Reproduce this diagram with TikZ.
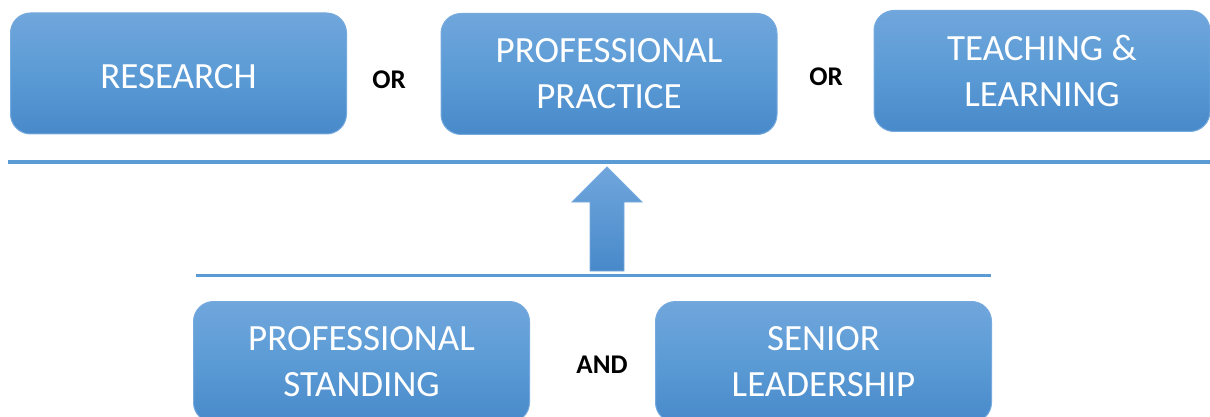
\documentclass[tikz,border=0pt]{standalone}
\usepackage{fontspec}
\setmainfont{Carlito}

\definecolor{boxtop}{RGB}{112,166,220}
\definecolor{boxmid}{RGB}{91,155,213}
\definecolor{boxbot}{RGB}{72,137,202}
\definecolor{boxline}{RGB}{118,170,222}
\definecolor{rulecol}{RGB}{91,155,213}

\begin{document}
\begin{tikzpicture}[x=1pt,y=-1pt,
  area/.style={rounded corners=20pt,draw=boxline,line width=1pt,
    top color=boxtop,bottom color=boxbot,middle color=boxmid,
    minimum width=336pt,minimum height=121pt,inner sep=0pt,
    text=white,align=center,font=\fontsize{37}{46}\selectfont,
    execute at begin node={\rule{0pt}{29.5pt}}},
  joiner/.style={font=\bfseries\fontsize{27}{32}\selectfont},
  rule/.style={draw=rulecol,line width=3pt}]
\useasboundingbox (0,0) rectangle (1210,417);

\node[area] (research) at (178.5,73.5) {RESEARCH};
\node[area] (practice) at (609,74) {PROFESSIONAL\\PRACTICE};
\node[area] (teaching) at (1042,71) {TEACHING \&\\LEARNING};
\node[joiner] (or1) at (389,79.5) {OR};
\node[joiner] (or2) at (826,76.5) {OR};

\draw[rule] (8,162) -- (1210,162);

\shade[top color=boxtop,bottom color=boxbot,draw=boxline,line width=0.8pt]
  (590,271) -- (590,202) -- (572,202) -- (607,167) -- (642,202)
  -- (624,202) -- (624,271) -- cycle;

\draw[rule] (196,275.5) -- (991,275.5);

\node[area] (standing) at (361.5,362) {PROFESSIONAL\\STANDING};
\node[area] (senior) at (823.5,362) {SENIOR\\LEADERSHIP};
\node[joiner] (and) at (602,364.5) {AND};
\end{tikzpicture}
\end{document}
